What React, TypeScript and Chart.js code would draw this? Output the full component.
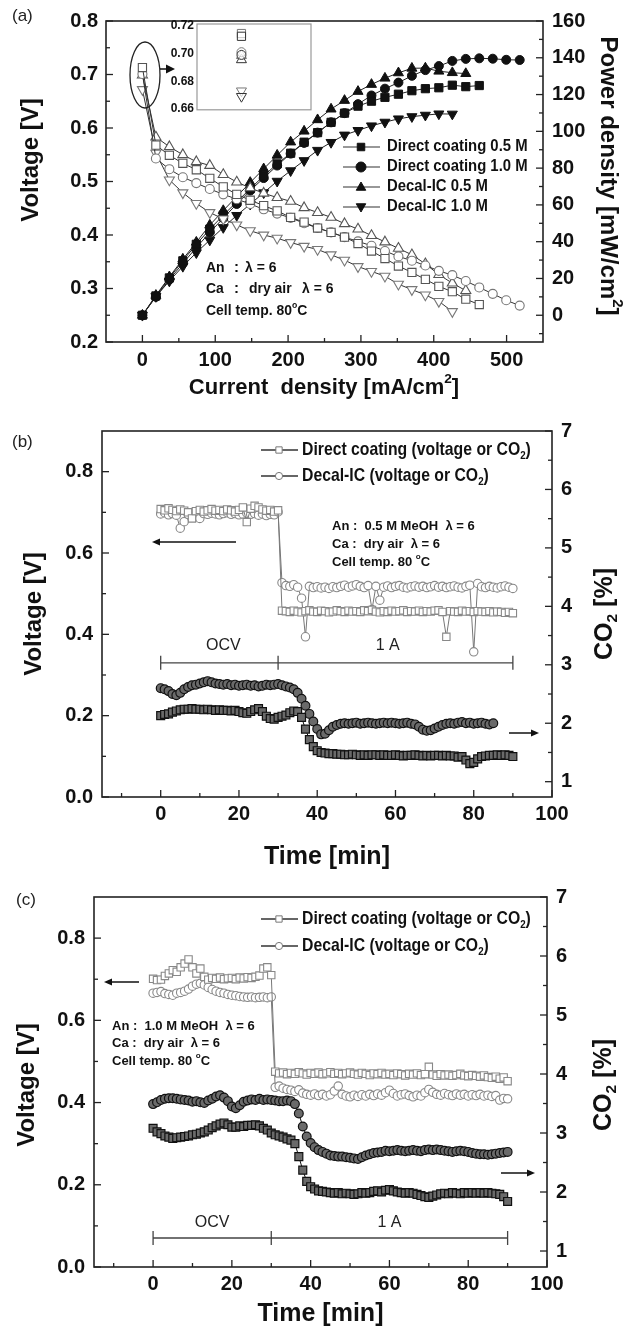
import React, { useEffect, useRef } from "react";
import { Chart, registerables } from "chart.js";

Chart.register(...registerables);

// ---------------- Panel (a): polarization & power curves ----------------
const SERIES_A = ["Direct coating 0.5 M", "Direct coating 1.0 M", "Decal-IC 0.5 M", "Decal-IC 1.0 M"];
const CURRENT = [0, 18.5, 37, 55.5, 74, 92.5, 111, 129.5, 148, 166.5, 185, 203.5, 222, 240.5, 259, 277.5, 296, 314.5, 333, 351.5, 370, 388.5, 407, 425.5, 444, 462.5, 481, 499.5, 518];

const V_DC05 = [0.713, 0.568, 0.549, 0.534, 0.522, 0.506, 0.490, 0.476, 0.465, 0.455, 0.445, 0.433, 0.424, 0.413, 0.405, 0.396, 0.384, 0.370, 0.356, 0.342, 0.330, 0.317, 0.304, 0.294, 0.280, 0.270];
const V_DC10 = [0.701, 0.543, 0.523, 0.508, 0.497, 0.486, 0.476, 0.467, 0.458, 0.448, 0.440, 0.432, 0.422, 0.413, 0.405, 0.396, 0.388, 0.380, 0.370, 0.360, 0.352, 0.343, 0.333, 0.325, 0.314, 0.302, 0.290, 0.278, 0.268];
const V_DI05 = [0.699, 0.583, 0.565, 0.550, 0.537, 0.530, 0.513, 0.499, 0.488, 0.478, 0.470, 0.463, 0.451, 0.442, 0.433, 0.421, 0.411, 0.399, 0.387, 0.375, 0.363, 0.346, 0.326, 0.310, 0.296];
const V_DI10 = [0.672, 0.553, 0.503, 0.479, 0.459, 0.442, 0.430, 0.419, 0.408, 0.400, 0.394, 0.386, 0.379, 0.373, 0.363, 0.353, 0.341, 0.332, 0.323, 0.308, 0.298, 0.288, 0.276, 0.257];

const P_DC05 = [0, 10.5, 20.3, 29.6, 38.6, 46.8, 54.4, 61.6, 68.8, 75.8, 82.3, 88.1, 94.1, 99.3, 104.9, 109.9, 113.7, 116.4, 118.5, 120.2, 122.1, 123.2, 123.7, 125.1, 124.3, 124.9];
const P_DC10 = [0, 10.0, 19.4, 28.2, 36.8, 45.0, 52.8, 60.5, 67.8, 74.6, 81.4, 87.9, 93.7, 99.3, 104.9, 109.9, 114.8, 119.5, 123.2, 126.5, 130.2, 133.3, 135.5, 138.3, 139.4, 139.7, 139.5, 138.9, 138.8];
const P_DI05 = [0, 10.8, 20.9, 30.5, 39.7, 49.0, 56.9, 64.6, 72.2, 79.6, 87.0, 94.2, 100.1, 106.3, 112.1, 116.8, 121.7, 125.5, 128.9, 131.8, 134.3, 134.4, 132.7, 131.9, 131.4];
const P_DI10 = [0, 10.2, 18.6, 26.6, 34.0, 40.9, 47.7, 54.3, 60.4, 66.6, 72.9, 78.6, 84.1, 89.7, 94.0, 98.0, 100.5, 103.0, 105.0, 106.8, 108.0, 108.8, 109.5, 109.4];

// inset (OCV close-up)
const INSET_X = [0.39, 0.39];
const INSET_DC05 = [0.7145, 0.7125];
const INSET_DC10 = [0.7010, 0.6990];
const INSET_DI05 = [0.6985, 0.6955];
const INSET_DI10 = [0.6730, 0.6690];
const INSET_TICKS = [0.66, 0.68, 0.70, 0.72];

const A_X_TICKS = [0, 100, 200, 300, 400, 500];
const A_X_MINOR = [50, 150, 250, 350, 450];
const A_V_TICKS = [0.2, 0.3, 0.4, 0.5, 0.6, 0.7, 0.8];
const A_V_MINOR = [0.25, 0.35, 0.45, 0.55, 0.65, 0.75];
const A_P_TICKS = [0, 20, 40, 60, 80, 100, 120, 140, 160];
const A_P_MINOR = [-10, 10, 30, 50, 70, 90, 110, 130, 150];

// ---------------- Panels (b), (c): time traces ----------------
const SERIES_T = ["Direct coating (voltage or CO", "Decal-IC (voltage or CO"];
const TIME = [
  0, 1, 2, 3, 4, 5, 6, 7, 8, 9,
  10, 11, 12, 13, 14, 15, 16, 17, 18, 19,
  20, 21, 22, 23, 24, 25, 26, 27, 28, 29,
  30, 31, 32, 33, 34, 35, 36, 37, 38, 39,
  40, 41, 42, 43, 44, 45, 46, 47, 48, 49,
  50, 51, 52, 53, 54, 55, 56, 57, 58, 59,
  60, 61, 62, 63, 64, 65, 66, 67, 68, 69,
  70, 71, 72, 73, 74, 75, 76, 77, 78, 79,
  80, 81, 82, 83, 84, 85, 86, 87, 88, 89,
  90,
];

const B_DC_V = [
  0.708, 0.705, 0.710, 0.706, 0.703, 0.707, 0.704, 0.700, 0.685, 0.703,
  0.706, 0.702, 0.705, 0.708, 0.704, 0.706, 0.703, 0.707, 0.705, 0.702,
  0.706, 0.712, 0.676, 0.709, 0.716, 0.712, 0.707, 0.704, 0.706, 0.702,
  0.705, 0.458, 0.457, 0.455, 0.458, 0.456, 0.454, 0.457, 0.459, 0.456,
  0.455, 0.458, 0.457, 0.454, 0.456, 0.459, 0.457, 0.455, 0.458, 0.456,
  0.457, 0.455, 0.459, 0.457, 0.460, 0.456, 0.454, 0.457, 0.455, 0.458,
  0.456, 0.457, 0.459, 0.455, 0.457, 0.456, 0.458, 0.455, 0.457, 0.456,
  0.458, 0.459, 0.455, 0.394, 0.457, 0.456, 0.455, 0.458, 0.456, 0.457,
  0.455, 0.457, 0.456, 0.455, 0.457, 0.454, 0.456, 0.455, 0.453, 0.455,
  0.452,
];
const B_DI_V = [
  0.696, 0.699, 0.694, 0.697, 0.693, 0.661, 0.677, 0.695, 0.698, 0.694,
  0.685, 0.697, 0.695, 0.698, 0.696, 0.694, 0.697, 0.699, 0.695, 0.697,
  0.694, 0.696, 0.698, 0.695, 0.697, 0.693, 0.696, 0.692, 0.695, 0.694,
  0.701, 0.527, 0.520, 0.518, 0.522, 0.516, 0.489, 0.394, 0.518, 0.515,
  0.517, 0.514, 0.516, 0.513, 0.517, 0.515, 0.518, 0.521, 0.516, 0.519,
  0.522, 0.518, 0.515, 0.520, 0.461, 0.518, 0.484, 0.516, 0.519, 0.515,
  0.518, 0.520, 0.516, 0.514, 0.517, 0.519, 0.516, 0.518, 0.515, 0.517,
  0.520, 0.516, 0.518, 0.515, 0.517, 0.519, 0.516, 0.514, 0.518, 0.521,
  0.357, 0.525, 0.517, 0.515, 0.518, 0.516, 0.514, 0.517, 0.519, 0.516,
  0.513,
];
const B_DC_CO2 = [
  2.13, 2.15, 2.16, 2.19, 2.21, 2.23, 2.24, 2.24, 2.25, 2.24,
  2.24, 2.23, 2.24, 2.23, 2.22, 2.23, 2.22, 2.22, 2.21, 2.22,
  2.20, 2.18, 2.17, 2.20, 2.23, 2.25, 2.20, 2.12, 2.08, 2.07,
  2.10, 2.12, 2.14, 2.18, 2.21, 2.20, 2.10, 1.90, 1.72, 1.60,
  1.53, 1.50, 1.49, 1.48, 1.48, 1.47, 1.47, 1.46, 1.46, 1.47,
  1.46, 1.45, 1.46, 1.45, 1.46, 1.46, 1.45, 1.46, 1.45, 1.45,
  1.46, 1.45, 1.44, 1.45, 1.45, 1.46, 1.45, 1.44, 1.45, 1.44,
  1.45, 1.45, 1.44, 1.45, 1.44, 1.44, 1.42, 1.43, 1.37, 1.31,
  1.33, 1.39, 1.43, 1.44, 1.45, 1.45, 1.46, 1.45, 1.46, 1.45,
  1.43,
];
const B_DI_CO2 = [
  2.60, 2.58, 2.55, 2.50, 2.48, 2.52, 2.58, 2.62, 2.65, 2.66,
  2.68, 2.70, 2.72, 2.70, 2.68, 2.67, 2.66, 2.67, 2.65, 2.66,
  2.64, 2.65, 2.66, 2.64, 2.65, 2.63, 2.64, 2.66, 2.65, 2.66,
  2.67, 2.65, 2.63, 2.61, 2.58, 2.52, 2.42, 2.30, 2.16, 2.03,
  1.90, 1.81, 1.82, 1.88, 1.94, 1.97, 1.99, 2.00, 1.99, 2.00,
  2.01, 1.99, 2.00, 2.01, 2.00, 1.99, 2.00, 2.01, 2.00, 2.01,
  2.00, 1.99, 2.00, 2.01, 1.99, 1.98, 1.94, 1.89, 1.87, 1.88,
  1.91, 1.94, 1.97, 1.99, 2.00, 1.99, 2.01, 2.02, 2.00, 2.01,
  1.99, 2.00, 2.01, 1.99, 1.98, 2.00,
];

const C_DC_V = [
  0.701, 0.698, 0.699, 0.708, 0.714, 0.722, 0.718, 0.729, 0.738, 0.748,
  0.729, 0.714, 0.726, 0.706, 0.699, 0.703, 0.701, 0.704, 0.700, 0.702,
  0.703, 0.700, 0.704, 0.702, 0.705, 0.703, 0.706, 0.709, 0.726, 0.729,
  0.710, 0.475, 0.471, 0.473, 0.469, 0.472, 0.470, 0.474, 0.471, 0.468,
  0.472, 0.470, 0.473, 0.469, 0.471, 0.474, 0.470, 0.472, 0.469, 0.471,
  0.473, 0.470, 0.468, 0.472, 0.470, 0.467, 0.471, 0.469, 0.472, 0.468,
  0.470, 0.467, 0.471, 0.469, 0.466, 0.470, 0.468, 0.471, 0.467, 0.469,
  0.487, 0.468, 0.465, 0.469, 0.466, 0.468, 0.465, 0.467, 0.470, 0.466,
  0.464, 0.467, 0.465, 0.463, 0.466, 0.462, 0.460, 0.463, 0.458, 0.461,
  0.452,
];
const C_DI_V = [
  0.666, 0.668, 0.670, 0.665, 0.663, 0.661, 0.666, 0.668, 0.671, 0.676,
  0.683, 0.688, 0.690, 0.686, 0.680, 0.675, 0.671, 0.668, 0.666, 0.663,
  0.661, 0.660, 0.658, 0.657, 0.656, 0.657, 0.655, 0.656, 0.657, 0.655,
  0.657, 0.437, 0.440, 0.435, 0.432, 0.430, 0.427, 0.431, 0.423, 0.420,
  0.418, 0.421, 0.417, 0.420, 0.416, 0.419, 0.428, 0.440, 0.420, 0.416,
  0.414, 0.418, 0.415, 0.419, 0.416, 0.420, 0.417, 0.421, 0.418, 0.424,
  0.430, 0.422, 0.416, 0.419, 0.421, 0.417, 0.414, 0.418, 0.416, 0.424,
  0.432, 0.425, 0.420, 0.418, 0.422, 0.419, 0.417, 0.421, 0.418, 0.420,
  0.416, 0.419, 0.417, 0.420, 0.416, 0.418, 0.415, 0.417, 0.406, 0.410,
  0.409,
];
const C_DC_CO2 = [
  3.08, 3.02, 2.99, 2.95, 2.93, 2.91, 2.92, 2.93, 2.94, 2.95,
  2.97, 2.98, 3.00, 3.02, 3.05, 3.09, 3.12, 3.15, 3.17, 3.14,
  3.10, 3.10, 3.12, 3.11, 3.13, 3.13, 3.14, 3.12, 3.08, 3.05,
  3.00, 2.97, 2.95, 2.93, 2.90, 2.88, 2.82, 2.60, 2.37, 2.18,
  2.09, 2.05, 2.02, 2.01, 2.00, 1.99, 1.98, 1.99, 1.97, 1.98,
  1.97, 1.96, 1.97, 1.99, 1.98, 1.99, 2.01, 2.02, 2.00, 2.03,
  2.04, 2.02, 2.00, 1.99, 1.98, 1.99, 1.98, 1.96, 1.94, 1.92,
  1.91, 1.93, 1.95, 1.97, 1.98, 1.97, 1.99, 1.98, 1.97, 1.99,
  1.98, 1.99, 1.98, 1.99, 1.98, 1.99, 1.98, 1.97, 1.96, 1.92,
  1.84,
];
const C_DI_CO2 = [
  3.49, 3.52, 3.56, 3.58, 3.59, 3.59, 3.58, 3.57, 3.56, 3.55,
  3.53, 3.54, 3.52, 3.51, 3.55, 3.58, 3.62, 3.64, 3.60, 3.54,
  3.45, 3.42, 3.47, 3.53, 3.55, 3.57, 3.56, 3.58, 3.56, 3.57,
  3.56, 3.55, 3.54, 3.54, 3.55, 3.54, 3.49, 3.33, 3.11, 2.94,
  2.83, 2.76, 2.71, 2.68, 2.65, 2.62, 2.61, 2.60, 2.60, 2.59,
  2.58, 2.57, 2.56, 2.59, 2.62, 2.64, 2.66, 2.67, 2.68, 2.70,
  2.69, 2.70, 2.71, 2.70, 2.69, 2.70, 2.71, 2.70, 2.69, 2.71,
  2.72, 2.71, 2.72, 2.71, 2.70, 2.69, 2.68, 2.69, 2.70, 2.69,
  2.68, 2.66, 2.65, 2.64, 2.64, 2.63, 2.64, 2.65, 2.66, 2.67,
  2.68,
];

const T_X_TICKS = [0, 20, 40, 60, 80, 100];
const T_X_MINOR = [-10, 10, 30, 50, 70, 90];
const T_V_TICKS = [0, 0.2, 0.4, 0.6, 0.8];
const T_V_MINOR = [0.1, 0.3, 0.5, 0.7];
const T_C_TICKS = [1, 2, 3, 4, 5, 6, 7];
const T_C_MINOR = [1.5, 2.5, 3.5, 4.5, 5.5, 6.5];
const PERIODS = [0, 30, 90];
const PERIOD_LABELS = ["OCV", "1 A"];

// ---------------- drawing helpers ----------------
const FONT = "'Liberation Sans', Arial, Helvetica, sans-serif";
const TICK_FONT = { family: FONT, size: 20, weight: "bold" as const };

type Part = { t: string; sub?: boolean; sup?: boolean };

function setFont(ctx: CanvasRenderingContext2D, size: number, weight: string) {
  ctx.font = `${weight} ${size}px ${FONT}`;
}

function drawRich(
  ctx: CanvasRenderingContext2D,
  parts: Part[],
  x: number,
  y: number,
  size: number,
  weight: string,
  o: { align?: "left" | "center"; rot?: number; sx?: number; color?: string } = {}
) {
  ctx.save();
  ctx.translate(x, y);
  if (o.rot) ctx.rotate(o.rot);
  ctx.scale(o.sx ?? 1, 1);
  ctx.fillStyle = o.color ?? "#111";
  ctx.textBaseline = "middle";
  ctx.textAlign = "left";
  let w = 0;
  for (const p of parts) {
    setFont(ctx, p.sub || p.sup ? size * 0.62 : size, weight);
    w += ctx.measureText(p.t).width;
  }
  let cx = o.align === "center" ? -w / 2 : 0;
  for (const p of parts) {
    setFont(ctx, p.sub || p.sup ? size * 0.62 : size, weight);
    const dy = p.sub ? size * 0.3 : p.sup ? -size * 0.38 : 0;
    ctx.fillText(p.t, cx, dy);
    cx += ctx.measureText(p.t).width;
  }
  ctx.restore();
}

type AxisSpec = { id: string; side: "bottom" | "left" | "right"; major: number[]; minor: number[] };

function drawFrame(chart: any, axes: AxisSpec[], color = "#222") {
  const { ctx, chartArea: a } = chart;
  ctx.save();
  ctx.strokeStyle = color;
  ctx.lineWidth = 1.6;
  ctx.strokeRect(a.left, a.top, a.right - a.left, a.bottom - a.top);
  ctx.lineWidth = 1.3;
  for (const ax of axes) {
    const sc = chart.scales[ax.id];
    const tick = (v: number, len: number) => {
      const p = sc.getPixelForValue(v);
      ctx.beginPath();
      if (ax.side === "bottom") {
        ctx.moveTo(p, a.bottom);
        ctx.lineTo(p, a.bottom - len);
      } else if (ax.side === "left") {
        ctx.moveTo(a.left, p);
        ctx.lineTo(a.left + len, p);
      } else {
        ctx.moveTo(a.right, p);
        ctx.lineTo(a.right - len, p);
      }
      ctx.stroke();
    };
    ax.major.forEach((v) => tick(v, 7));
    ax.minor.forEach((v) => tick(v, 4));
  }
  ctx.restore();
}

function marker(ctx: CanvasRenderingContext2D, style: string, x: number, y: number, r: number, fill: string, stroke: string) {
  ctx.save();
  ctx.beginPath();
  if (style === "rect") ctx.rect(x - r * 0.75, y - r * 0.75, r * 1.5, r * 1.5);
  else if (style === "circle") ctx.arc(x, y, r, 0, Math.PI * 2);
  else if (style === "tri") {
    ctx.moveTo(x, y - r);
    ctx.lineTo(x + r * 0.95, y + r * 0.65);
    ctx.lineTo(x - r * 0.95, y + r * 0.65);
    ctx.closePath();
  } else {
    ctx.moveTo(x, y + r);
    ctx.lineTo(x + r * 0.95, y - r * 0.65);
    ctx.lineTo(x - r * 0.95, y - r * 0.65);
    ctx.closePath();
  }
  ctx.fillStyle = fill;
  ctx.fill();
  ctx.strokeStyle = stroke;
  ctx.lineWidth = 1;
  ctx.stroke();
  ctx.restore();
}

function hArrow(ctx: CanvasRenderingContext2D, x1: number, y: number, x2: number, headLen: number, headHalf: number) {
  const dir = Math.sign(x2 - x1);
  ctx.save();
  ctx.strokeStyle = "#111";
  ctx.fillStyle = "#111";
  ctx.lineWidth = 1.5;
  ctx.beginPath();
  ctx.moveTo(x1, y);
  ctx.lineTo(x2 - dir * headLen * 0.6, y);
  ctx.stroke();
  ctx.beginPath();
  ctx.moveTo(x2, y);
  ctx.lineTo(x2 - dir * headLen, y - headHalf);
  ctx.lineTo(x2 - dir * headLen, y + headHalf);
  ctx.closePath();
  ctx.fill();
  ctx.restore();
}

function pts(xs: number[], ys: number[]) {
  return ys.map((y, i) => ({ x: xs[i], y }));
}

function fixTicks(values: number[]) {
  return (scale: any) => {
    scale.ticks = values.map((v) => ({ value: v }));
  };
}

function fixSize(prop: "width" | "height", size: number) {
  return (scale: any) => {
    scale[prop] = size;
  };
}

function scaleOpts(min: number, max: number, ticks: number[], fmt: (v: number) => string, pad: number, sizeProp: "width" | "height", size: number, extra: any = {}) {
  return {
    type: "linear",
    min,
    max,
    grid: { display: false, drawTicks: false },
    border: { display: false },
    ticks: { font: TICK_FONT, color: "#111", padding: pad, autoSkip: false, maxRotation: 0, callback: (v: any) => fmt(Number(v)) },
    afterBuildTicks: fixTicks(ticks),
    afterFit: fixSize(sizeProp, size),
    ...extra,
  };
}

const BASE_OPTS = {
  responsive: false,
  animation: false,
  devicePixelRatio: 1,
  events: [] as any[],
  plugins: { legend: { display: false }, tooltip: { enabled: false }, title: { display: false } },
};

// ---------------- chart configs ----------------
const A_STYLES = [
  { style: "rect", rot: 0, r: 5.8, leg: "rect" },
  { style: "circle", rot: 0, r: 4.5, leg: "circle" },
  { style: "triangle", rot: 0, r: 5.8, leg: "tri" },
  { style: "triangle", rot: 180, r: 5.8, leg: "tridown" },
];

function configA(): any {
  const V = [V_DC05, V_DC10, V_DI05, V_DI10];
  const P = [P_DC05, P_DC10, P_DI05, P_DI10];
  const datasets: any[] = [];
  V.forEach((ys, i) =>
    datasets.push({
      label: SERIES_A[i] + " (voltage)",
      yAxisID: "y",
      data: pts(CURRENT, ys),
      pointStyle: A_STYLES[i].style,
      pointRotation: A_STYLES[i].rot,
      pointRadius: A_STYLES[i].r,
      pointBackgroundColor: "#fff",
      pointBorderColor: i % 2 === 0 ? "#555" : "#777",
      pointBorderWidth: 1.1,
      borderColor: "#333",
      borderWidth: 1,
      tension: 0,
      fill: false,
    })
  );
  P.forEach((ys, i) =>
    datasets.push({
      label: SERIES_A[i],
      yAxisID: "y2",
      data: pts(CURRENT, ys),
      pointStyle: A_STYLES[i].style,
      pointRotation: A_STYLES[i].rot,
      pointRadius: A_STYLES[i].r,
      pointBackgroundColor: "#111",
      pointBorderColor: "#111",
      pointBorderWidth: 1,
      borderColor: "#222",
      borderWidth: 1,
      tension: 0,
      fill: false,
    })
  );

  const deco = {
    id: "decoA",
    afterDraw(chart: any) {
      const ctx: CanvasRenderingContext2D = chart.ctx;
      drawFrame(chart, [
        { id: "x", side: "bottom", major: A_X_TICKS, minor: A_X_MINOR },
        { id: "y", side: "left", major: A_V_TICKS, minor: A_V_MINOR },
        { id: "y2", side: "right", major: A_P_TICKS, minor: A_P_MINOR },
      ]);
      drawRich(ctx, [{ t: "Current  density [mA/cm" }, { t: "2", sup: true }, { t: "]" }], 324, 388, 22, "bold", { align: "center" });
      drawRich(ctx, [{ t: "Voltage [V]" }], 31, 160, 24, "bold", { align: "center", rot: -Math.PI / 2 });
      drawRich(ctx, [{ t: "Power density [mW/cm" }, { t: "2", sup: true }, { t: "]" }], 608, 176, 24, "bold", { align: "center", rot: Math.PI / 2 });
      drawRich(ctx, [{ t: "(a)" }], 12, 16, 17, "normal", { color: "#222" });

      // legend
      const rows = [147, 167, 187, 207];
      SERIES_A.forEach((name, i) => {
        const y = rows[i];
        ctx.save();
        ctx.strokeStyle = "#333";
        ctx.lineWidth = 1.2;
        ctx.beginPath();
        ctx.moveTo(343, y);
        ctx.lineTo(380, y);
        ctx.stroke();
        ctx.restore();
        marker(ctx, A_STYLES[i].leg, 361, y, 5, "#111", "#111");
        drawRich(ctx, [{ t: name }], 387, y, 16, "bold", { sx: 0.93 });
      });

      // conditions
      const f = 15;
      drawRich(ctx, [{ t: "An" }], 206, 268, f, "bold", { sx: 0.93 });
      drawRich(ctx, [{ t: ":" }], 234, 268, f, "bold");
      drawRich(ctx, [{ t: "λ = 6" }], 245, 268, f, "bold", { sx: 0.93 });
      drawRich(ctx, [{ t: "Ca" }], 206, 289, f, "bold", { sx: 0.93 });
      drawRich(ctx, [{ t: ":" }], 234, 289, f, "bold");
      drawRich(ctx, [{ t: "dry air" }], 249, 289, f, "bold", { sx: 0.93 });
      drawRich(ctx, [{ t: "λ = 6" }], 302, 289, f, "bold", { sx: 0.93 });
      drawRich(ctx, [{ t: "Cell temp. 80" }, { t: "o", sup: true }, { t: "C" }], 206, 311, f, "bold", { sx: 0.93 });

      // ellipse around OCV points + arrow to inset
      ctx.save();
      ctx.strokeStyle = "#222";
      ctx.lineWidth = 1.3;
      ctx.beginPath();
      ctx.ellipse(145, 75, 15, 33, 0, 0, Math.PI * 2);
      ctx.stroke();
      ctx.restore();
      hArrow(ctx, 160, 69, 175, 9, 4.5);
    },
  };

  return {
    type: "line",
    data: { datasets },
    options: {
      ...BASE_OPTS,
      layout: { padding: { top: 15, left: 0, right: 0, bottom: 0 }, autoPadding: false },
      scales: {
        x: scaleOpts(-50, 550, A_X_TICKS, (v) => String(v), 6, "height", 405 - 342, { position: "bottom" }),
        y: scaleOpts(0.2, 0.8, A_V_TICKS, (v) => v.toFixed(1), 8, "width", 106, { position: "left" }),
        y2: scaleOpts(-14.545, 160, A_P_TICKS, (v) => String(v), 9, "width", 640 - 543, { position: "right" }),
      },
    },
    plugins: [deco],
  };
}

function configInset(): any {
  const sets = [INSET_DC05, INSET_DC10, INSET_DI05, INSET_DI10];
  const datasets = sets.map((ys, i) => ({
    label: SERIES_A[i] + " OCV",
    data: pts(INSET_X, ys),
    showLine: false,
    pointStyle: A_STYLES[i].style,
    pointRotation: A_STYLES[i].rot,
    pointRadius: A_STYLES[i].r,
    pointBackgroundColor: "rgba(255,255,255,0.6)",
    pointBorderColor: ["#777", "#333"],
    pointBorderWidth: 1,
  }));
  const deco = {
    id: "decoInset",
    afterDraw(chart: any) {
      const { ctx, chartArea: a } = chart;
      ctx.save();
      ctx.strokeStyle = "#999";
      ctx.lineWidth = 1.2;
      ctx.strokeRect(a.left, a.top, a.right - a.left, a.bottom - a.top);
      ctx.restore();
    },
  };
  return {
    type: "line",
    data: { datasets },
    options: {
      ...BASE_OPTS,
      layout: { padding: { top: 14, left: 0, right: 9, bottom: 9 }, autoPadding: false },
      scales: {
        x: { type: "linear", min: 0, max: 1, display: false },
        y: {
          type: "linear",
          min: 0.6593,
          max: 0.7214,
          position: "left",
          grid: { display: false, drawTicks: false },
          border: { display: false },
          ticks: { font: { family: FONT, size: 12, weight: "bold" }, color: "#111", padding: 3, autoSkip: false, callback: (v: any) => Number(v).toFixed(2) },
          afterBuildTicks: fixTicks(INSET_TICKS),
          afterFit: fixSize("width", 47),
        },
      },
    },
    plugins: [deco],
  };
}

type TimeCfg = {
  panel: string;
  top: number;
  height: number;
  area: { left: number; right: number; top: number; bottom: number };
  co2Min: number;
  dcV: number[];
  diV: number[];
  dcC: number[];
  diC: number[];
  conc: string;
  textX: number;
  textY: number[];
  legendY: number[];
  leftArrow: [number, number, number];
  rightArrow: [number, number, number];
  bracketV: number;
  labelV: number;
  labelX: number[];
  xTitleY: number;
  yTitle: [number, number];
  y2Title: [number, number];
  panelPos: [number, number];
  xPad: number;
};

function configTime(c: TimeCfg): any {
  const volt = (label: string, ys: number[], style: string, r: number) => ({
    label,
    yAxisID: "y",
    data: pts(TIME, ys),
    pointStyle: style,
    pointRadius: r,
    pointBackgroundColor: "#fff",
    pointBorderColor: "#888",
    pointBorderWidth: 1.1,
    borderColor: "#777",
    borderWidth: 1,
    tension: 0,
    fill: false,
  });
  const co2 = (label: string, ys: number[], style: string, r: number) => ({
    label,
    yAxisID: "y2",
    data: pts(TIME, ys),
    pointStyle: style,
    pointRadius: r,
    pointBackgroundColor: "#6a6a6a",
    pointBorderColor: "#111",
    pointBorderWidth: 1.2,
    borderColor: "#111",
    borderWidth: 1,
    tension: 0,
    fill: false,
  });
  const datasets = [
    co2("Direct coating CO2", c.dcC, "rect", 5.6),
    co2("Decal-IC CO2", c.diC, "circle", 4.4),
    volt("Direct coating voltage", c.dcV, "rect", 5.2),
    volt("Decal-IC voltage", c.diV, "circle", 4.2),
  ];
  const W = 640;
  const deco = {
    id: "deco" + c.panel,
    afterDraw(chart: any) {
      const ctx: CanvasRenderingContext2D = chart.ctx;
      drawFrame(chart, [
        { id: "x", side: "bottom", major: T_X_TICKS, minor: T_X_MINOR },
        { id: "y", side: "left", major: T_V_TICKS, minor: T_V_MINOR },
        { id: "y2", side: "right", major: T_C_TICKS, minor: T_C_MINOR },
      ]);
      const a = chart.chartArea;
      drawRich(ctx, [{ t: "Time [min]" }], (a.left + a.right) / 2, c.xTitleY, 25, "bold", { align: "center" });
      drawRich(ctx, [{ t: "Voltage [V]" }], c.yTitle[0], c.yTitle[1], 24, "bold", { align: "center", rot: -Math.PI / 2 });
      drawRich(ctx, [{ t: "CO" }, { t: "2", sub: true }, { t: " [%]" }], c.y2Title[0], c.y2Title[1], 25, "bold", { align: "center", rot: -Math.PI / 2 });
      drawRich(ctx, [{ t: `(${c.panel})` }], c.panelPos[0], c.panelPos[1], 17, "normal", { color: "#222" });

      // legend
      const styles = ["rect", "circle"];
      SERIES_T.forEach((name, i) => {
        const y = c.legendY[i];
        ctx.save();
        ctx.strokeStyle = "#333";
        ctx.lineWidth = 1.6;
        ctx.beginPath();
        ctx.moveTo(261, y);
        ctx.lineTo(298, y);
        ctx.stroke();
        ctx.restore();
        marker(ctx, styles[i], 279, y, i === 0 ? 4.2 : 3.6, "#fff", "#777");
        drawRich(ctx, [{ t: name }, { t: "2", sub: true }, { t: ")" }], 302, y, 19, "bold", { sx: 0.83 });
      });

      // conditions text
      drawRich(ctx, [{ t: `An :  ${c.conc} M MeOH  λ = 6` }], c.textX, c.textY[0], 13, "bold");
      drawRich(ctx, [{ t: "Ca :  dry air  λ = 6" }], c.textX, c.textY[1], 13, "bold");
      drawRich(ctx, [{ t: "Cell temp. 80 " }, { t: "o", sup: true }, { t: "C" }], c.textX, c.textY[2], 13, "bold");

      // arrows
      hArrow(ctx, c.leftArrow[0], c.leftArrow[1], c.leftArrow[2], 8, 3.5);
      hArrow(ctx, c.rightArrow[0], c.rightArrow[1], c.rightArrow[2], 8, 3.5);

      // period bracket
      const sx = chart.scales.x;
      const sy = chart.scales.y;
      const yb = sy.getPixelForValue(c.bracketV);
      const xs = PERIODS.map((t) => sx.getPixelForValue(t));
      ctx.save();
      ctx.strokeStyle = "#444";
      ctx.lineWidth = 1.3;
      ctx.beginPath();
      ctx.moveTo(xs[0], yb);
      ctx.lineTo(xs[xs.length - 1], yb);
      xs.forEach((x) => {
        ctx.moveTo(x, yb - 7);
        ctx.lineTo(x, yb + 7);
      });
      ctx.stroke();
      ctx.restore();
      const yl = sy.getPixelForValue(c.labelV);
      PERIOD_LABELS.forEach((s, i) => {
        drawRich(ctx, [{ t: s }], sx.getPixelForValue(c.labelX[i]), yl, 16, "normal", { align: "center", color: "#222" });
      });
    },
  };
  return {
    type: "line",
    data: { datasets },
    options: {
      ...BASE_OPTS,
      layout: { padding: { top: c.area.top, left: 0, right: 0, bottom: 0 }, autoPadding: false },
      scales: {
        x: scaleOpts(-15, 100, T_X_TICKS, (v) => String(v), c.xPad, "height", c.height - c.area.bottom, { position: "bottom" }),
        y: scaleOpts(0, 0.9, T_V_TICKS, (v) => v.toFixed(1), 9, "width", c.area.left, { position: "left" }),
        y2: scaleOpts(c.co2Min, 7, T_C_TICKS, (v) => String(v), 9, "width", W - c.area.right, { position: "right" }),
      },
    },
    plugins: [deco],
  };
}

const CFG_B: TimeCfg = {
  panel: "b",
  top: 405,
  height: 470,
  area: { left: 102, right: 552, top: 26, bottom: 392 },
  co2Min: 0.738,
  dcV: B_DC_V,
  diV: B_DI_V,
  dcC: B_DC_CO2,
  diC: B_DI_CO2,
  conc: "0.5",
  textX: 332,
  textY: [121, 139, 157],
  legendY: [45, 71],
  leftArrow: [236, 137, 152],
  rightArrow: [509, 328, 539],
  bracketV: 0.33,
  labelV: 0.372,
  labelX: [16, 58],
  xTitleY: 452,
  yTitle: [34, 209],
  y2Title: [605, 209],
  panelPos: [12, 37],
  xPad: 5,
};

const CFG_C: TimeCfg = {
  panel: "c",
  top: 875,
  height: 453,
  area: { left: 94, right: 547, top: 22, bottom: 392 },
  co2Min: 0.729,
  dcV: C_DC_V,
  diV: C_DI_V,
  dcC: C_DC_CO2,
  diC: C_DI_CO2,
  conc: "1.0",
  textX: 112,
  textY: [151, 168, 186],
  legendY: [44, 71],
  leftArrow: [139, 107, 104],
  rightArrow: [501, 298, 535],
  bracketV: 0.0705,
  labelV: 0.107,
  labelX: [15, 60],
  xTitleY: 439,
  yTitle: [27, 210],
  y2Title: [604, 210],
  panelPos: [16, 25],
  xPad: 5,
};

function ChartCanvas({ make, left, top, width, height }: { make: () => any; left: number; top: number; width: number; height: number }) {
  const ref = useRef<HTMLCanvasElement | null>(null);
  useEffect(() => {
    if (!ref.current) return;
    const chart = new Chart(ref.current, make());
    return () => chart.destroy();
  }, []);
  return (
    <canvas
      ref={ref}
      width={width}
      height={height}
      style={{ position: "absolute", left, top, width, height, display: "block" }}
    />
  );
}

export default function App() {
  return (
    <div style={{ position: "absolute", left: 0, top: 0, width: 640, height: 1328, background: "#fff", overflow: "hidden" }}>
      <ChartCanvas make={configA} left={0} top={0} width={640} height={405} />
      <ChartCanvas make={configInset} left={150} top={10} width={170} height={110} />
      <ChartCanvas make={() => configTime(CFG_B)} left={0} top={CFG_B.top} width={640} height={CFG_B.height} />
      <ChartCanvas make={() => configTime(CFG_C)} left={0} top={CFG_C.top} width={640} height={CFG_C.height} />
    </div>
  );
}
